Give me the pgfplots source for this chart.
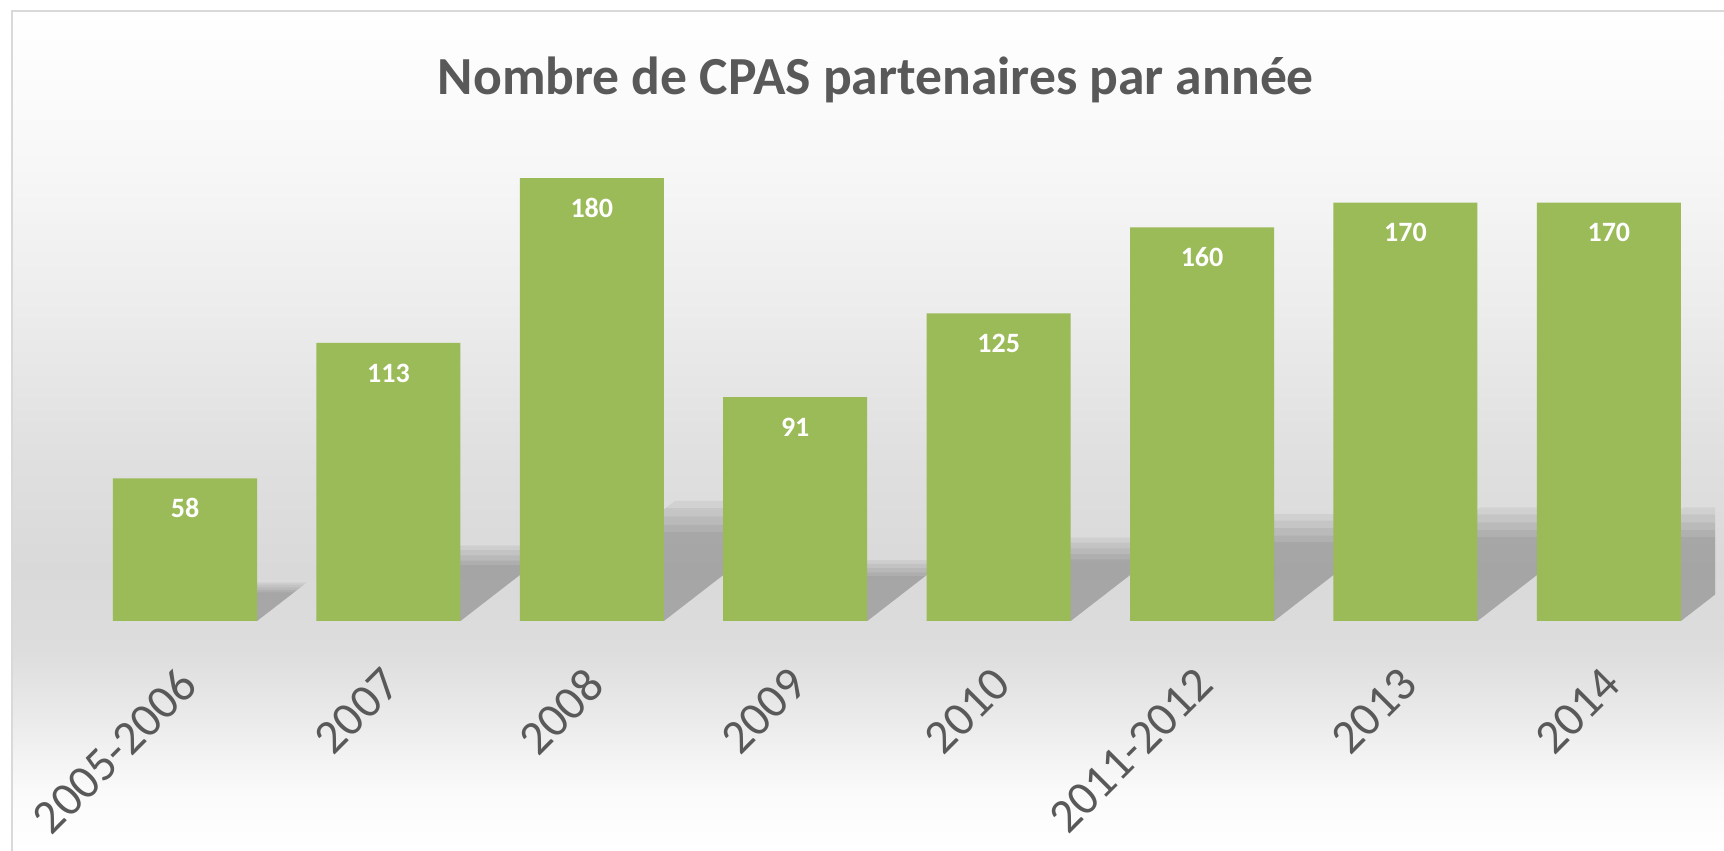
\documentclass[border=0pt]{standalone}
\usepackage{pgfplots}
\pgfplotsset{compat=1.18}
\usepackage{fontspec}
\setmainfont{Carlito}
\definecolor{barcol}{HTML}{9BBB59}
\definecolor{txtcol}{HTML}{595959}
\definecolor{bordcol}{HTML}{D9D9D9}
\definecolor{bgA}{HTML}{FFFFFF}
\definecolor{bgB}{HTML}{FAFAFA}
\definecolor{bgC}{HTML}{EBEBEB}
\definecolor{bgD}{HTML}{DDDDDD}
\definecolor{bgE}{HTML}{D9D9D9}
\definecolor{bgF}{HTML}{E0E0E0}
\definecolor{bgG}{HTML}{EDEDED}
\definecolor{bgH}{HTML}{F8F8F8}
\pgfdeclareverticalshading{bgshade}{100bp}{color(0bp)=(bgA); color(25bp)=(bgA); color(28.63bp)=(bgB); color(32.8bp)=(bgC); color(36.96bp)=(bgD); color(41.73bp)=(bgE); color(48.87bp)=(bgF); color(57.8bp)=(bgG); color(66.73bp)=(bgH); color(75bp)=(bgA); color(100bp)=(bgA)}
\pgfplotsset{shadowlayer/.style={fill=black, fill opacity=0.05, draw=none, forget plot}}
% shadow polygon: bottom-left x, bottom-right x, top-right x, top-left x, height
\newcommand\shad[5]{\addplot[shadowlayer] coordinates {(#1,0) (#2,0) (#3,#5) (#4,#5)} -- cycle;}
\newcommand\shadlast[2]{\addplot[shadowlayer] coordinates {(6.646,0) (7.354,0) (7.522,10.75) (7.522,#2) (#1,#2)} -- cycle;}
\begin{document}
\begin{tikzpicture}
\begin{axis}[
  set layers=standard,
  scale only axis,
  width=862pt, height=310.5pt,
  xmin=-0.9095, xmax=7.566,
  ymin=0, ymax=252.4,
  clip=false,
  axis line style={draw=none},
  major tick length=0pt,
  ytick=\empty,
  xtick={0,1,2,3,4,5,6,7},
  xticklabels={2005-2006,2007,2008,2009,2010,2011-2012,2013,2014},
  xticklabel style={xshift=-4pt, yshift=-22pt, rotate=45, anchor=north east, inner sep=0pt,
    font=\fontsize{24}{24}\selectfont, text=txtcol},
  title={Nombre de CPAS partenaires par année},
  title style={at={(axis description cs:0.5081,0.8486)}, anchor=base, yshift=-6pt,
    font=\bfseries\fontsize{26.8}{26.8}\selectfont, text=txtcol, inner sep=0pt},
  /pgf/number format/assume math mode=true,
]
\begin{pgfonlayer}{axis background}
\shade[shading=bgshade] (axis cs:-0.8505,-93.5) rectangle (axis cs:7.566,248);
\draw[bordcol, line width=0.8pt] (axis cs:-0.8505,-93.5) |- (axis cs:7.566,248);
\end{pgfonlayer}
% shadows (five soft layers each)
\shad{-0.354}{0.354}{0.536}{-0.172}{11.64}
\shad{-0.354}{0.354}{0.551}{-0.157}{12.59}
\shad{-0.354}{0.354}{0.568}{-0.140}{13.69}
\shad{-0.354}{0.354}{0.585}{-0.123}{14.79}
\shad{-0.354}{0.354}{0.600}{-0.108}{15.74}
\shad{0.646}{1.354}{1.708}{1.000}{22.67}
\shad{0.646}{1.354}{1.737}{1.029}{24.54}
\shad{0.646}{1.354}{1.771}{1.063}{26.67}
\shad{0.646}{1.354}{1.804}{1.096}{28.80}
\shad{0.646}{1.354}{1.833}{1.125}{30.67}
\shad{1.646}{2.354}{2.918}{2.210}{36.11}
\shad{1.646}{2.354}{2.965}{2.257}{39.08}
\shad{1.646}{2.354}{3.018}{2.310}{42.48}
\shad{1.646}{2.354}{3.071}{2.363}{45.88}
\shad{1.646}{2.354}{3.117}{2.409}{48.85}
\shad{2.646}{3.354}{3.639}{2.931}{18.26}
\shad{2.646}{3.354}{3.663}{2.955}{19.76}
\shad{2.646}{3.354}{3.690}{2.982}{21.48}
\shad{2.646}{3.354}{3.716}{3.008}{23.20}
\shad{2.646}{3.354}{3.740}{3.032}{24.70}
\shad{3.646}{4.354}{4.746}{4.038}{25.08}
\shad{3.646}{4.354}{4.778}{4.070}{27.14}
\shad{3.646}{4.354}{4.815}{4.107}{29.50}
\shad{3.646}{4.354}{4.852}{4.144}{31.86}
\shad{3.646}{4.354}{4.884}{4.176}{33.93}
\shad{4.646}{5.354}{5.855}{5.147}{32.10}
\shad{4.646}{5.354}{5.897}{5.189}{34.74}
\shad{4.646}{5.354}{5.944}{5.236}{37.76}
\shad{4.646}{5.354}{5.991}{5.283}{40.78}
\shad{4.646}{5.354}{6.032}{5.324}{43.42}
\shad{5.646}{6.354}{6.887}{6.179}{34.10}
\shad{5.646}{6.354}{6.931}{6.223}{36.91}
\shad{5.646}{6.354}{6.981}{6.273}{40.12}
\shad{5.646}{6.354}{7.031}{6.323}{43.33}
\shad{5.646}{6.354}{7.075}{6.367}{46.14}
\shadlast{7.179}{34.10}
\shadlast{7.223}{36.91}
\shadlast{7.273}{40.12}
\shadlast{7.323}{43.33}
\shadlast{7.367}{46.14}
% bars
\addplot[ybar, bar width=0.708, fill=barcol, draw=none,
  nodes near coords,
  every node near coord/.append style={anchor=center, yshift=-15pt,
    font=\bfseries\fontsize{14}{14}\selectfont, text=white}]
  coordinates {(0,58) (1,113) (2,180) (3,91) (4,125) (5,160) (6,170) (7,170)};
\end{axis}
\pgfresetboundingbox
\useasboundingbox (current axis.north west) rectangle ([yshift=-115pt]current axis.south east);
\end{tikzpicture}
\end{document}
